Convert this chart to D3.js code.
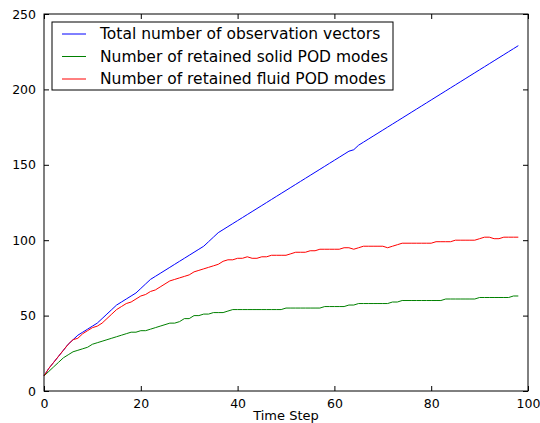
<!DOCTYPE html>
<html>
<head>
<meta charset="utf-8">
<script src="https://cdn.jsdelivr.net/npm/d3@7"></script>
<style>
    body { margin: 0; background: #fff; }
    svg { display: block; }
</style>
</head>
<body>
<svg></svg>
<script>
// time steps 0..98
var steps = d3.range(0, 99);

var totalVectors = [10, 15, 19, 23, 27, 31, 34, 37, 39, 41,
    43, 45, 48, 51, 54, 57, 59, 61, 63, 65,
    68, 71, 74, 76, 78, 80, 82, 84, 86, 88,
    90, 92, 94, 96, 99, 102, 105, 107, 109, 111,
    113, 115, 117, 119, 121, 123, 125, 127, 129, 131,
    133, 135, 137, 139, 141, 143, 145, 147, 149, 151,
    153, 155, 157, 159, 160, 163, 165, 167, 169, 171,
    173, 175, 177, 179, 181, 183, 185, 187, 189, 191,
    193, 195, 197, 199, 201, 203, 205, 207, 209, 211,
    213, 215, 217, 219, 221, 223, 225, 227, 229];

var solidModes = [10, 13, 16, 19, 22, 24, 26, 27, 28, 29,
    31, 32, 33, 34, 35, 36, 37, 38, 39, 39,
    40, 40, 41, 42, 43, 44, 45, 45, 46, 48,
    48, 50, 50, 51, 51, 52, 52, 52, 53, 54,
    54, 54, 54, 54, 54, 54, 54, 54, 54, 54,
    55, 55, 55, 55, 55, 55, 55, 55, 56, 56,
    56, 56, 56, 57, 57, 58, 58, 58, 58, 58,
    58, 58, 59, 59, 60, 60, 60, 60, 60, 60,
    60, 60, 60, 61, 61, 61, 61, 61, 61, 61,
    62, 62, 62, 62, 62, 62, 62, 63, 63];

var fluidModes = [10, 15, 19, 23, 27, 31, 34, 35, 38, 40,
    42, 43, 45, 48, 51, 54, 56, 58, 59, 61,
    63, 64, 66, 67, 69, 71, 73, 74, 75, 76,
    77, 79, 80, 81, 82, 83, 84, 86, 87, 87,
    88, 88, 89, 88, 88, 89, 89, 90, 90, 90,
    90, 91, 92, 92, 92, 93, 93, 94, 94, 94,
    94, 94, 95, 95, 94, 95, 96, 96, 96, 96,
    96, 95, 96, 97, 98, 98, 98, 98, 98, 98,
    98, 99, 99, 99, 99, 100, 100, 100, 100, 100,
    101, 102, 102, 101, 101, 102, 102, 102, 102];

var seriesNames = ["Total number of observation vectors",
    "Number of retained solid POD modes",
    "Number of retained fluid POD modes"];
var seriesColors = ["#0000ff", "#008000", "#ff0000"];

var xTicks = [0, 20, 40, 60, 80, 100];
var yTicks = [0, 50, 100, 150, 200, 250];

const svgWidth = 540,
    svgHeight = 423;

var margin = { top: 14, right: 12, bottom: 32, left: 44 };
var width = svgWidth - margin.left - margin.right;
var height = svgHeight - margin.top - margin.bottom;

var svg = d3.select("svg")
    .attr("width", svgWidth)
    .attr("height", svgHeight);

var g = svg.append("g")
    .attr("transform", "translate(" + margin.left + "," + margin.top + ")");

var x = d3.scaleLinear().domain([0, 100]).range([0, width]);
var y = d3.scaleLinear().domain([0, 250]).range([height, 0]);

var series = [totalVectors, solidModes, fluidModes].map(function(vals, i) {
    return { name: seriesNames[i], color: seriesColors[i], values: vals };
});

var line = d3.line()
    .x(function(d, i) { return x(steps[i]); })
    .y(function(d) { return y(d); });

g.selectAll(".series")
    .data(series)
    .enter()
    .append("path")
    .attr("class", "series")
    .attr("fill", "none")
    .attr("stroke", d => d.color)
    .attr("stroke-width", 1)
    .attr("d", d => line(d.values));

// axes, matplotlib classic look: inward ticks on all four sides
var fontFam = "DejaVu Sans, sans-serif";

var xBottom = d3.axisBottom(x).tickValues(xTicks).tickSizeInner(-5).tickSizeOuter(0).tickPadding(8);
var xTop = d3.axisTop(x).tickValues(xTicks).tickSizeInner(-5).tickSizeOuter(0).tickFormat("");
var yLeft = d3.axisLeft(y).tickValues(yTicks).tickSizeInner(-5).tickSizeOuter(0).tickPadding(8);
var yRight = d3.axisRight(y).tickValues(yTicks).tickSizeInner(-5).tickSizeOuter(0).tickFormat("");

g.append("g").attr("transform", "translate(0," + height + ")").call(xBottom);
g.append("g").call(xTop);
g.append("g").call(yLeft);
g.append("g").attr("transform", "translate(" + width + ",0)").call(yRight);

g.selectAll(".domain").remove();
g.selectAll(".tick line").attr("stroke", "#000").attr("stroke-width", 1);
g.selectAll(".tick text")
    .attr("font-size", 12.5)
    .attr("font-family", fontFam)
    .attr("fill", "#000");

// frame
g.append("rect")
    .attr("x", 0)
    .attr("y", 0)
    .attr("width", width)
    .attr("height", height)
    .attr("fill", "none")
    .attr("stroke", "#000")
    .attr("stroke-width", 1);

g.append("text")
    .attr("x", width / 2)
    .attr("y", height + 29)
    .attr("text-anchor", "middle")
    .attr("font-size", 13)
    .attr("font-family", fontFam)
    .text("Time Step");

// legend
var legend = g.append("g").attr("transform", "translate(8,8)");

legend.append("rect")
    .attr("x", 0)
    .attr("y", 0)
    .attr("width", 341)
    .attr("height", 68)
    .attr("fill", "#fff")
    .attr("stroke", "#000")
    .attr("stroke-width", 1);

var items = legend.selectAll(".item")
    .data(series)
    .enter()
    .append("g")
    .attr("class", "item")
    .attr("transform", (d, i) => "translate(0," + (12 + i * 22.5) + ")");

items.append("line")
    .attr("x1", 10)
    .attr("x2", 34)
    .attr("stroke", d => d.color)
    .attr("stroke-width", 1);

items.append("text")
    .attr("x", 48)
    .attr("dy", "0.35em")
    .attr("font-size", 15.5)
    .attr("font-family", fontFam)
    .text(d => d.name);
</script>
</body>
</html>
